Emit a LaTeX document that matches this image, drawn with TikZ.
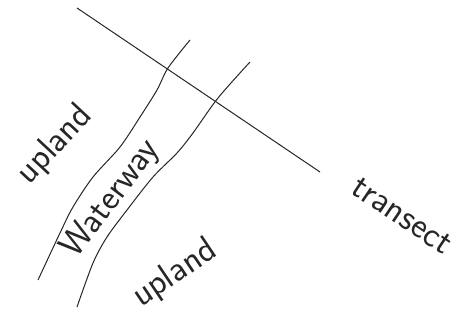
\documentclass[tikz,border=0pt]{standalone}
\usepackage{tikz}
\usetikzlibrary{positioning}

\begin{document}
\begin{tikzpicture}[
    x=1pt, y=-1pt,
    every node/.style={font=\sffamily\fontsize{36}{36}\selectfont, inner sep=0pt},
    bank/.style={line width=1pt, black!85},
    trans/.style={line width=1pt, black!85},
    lbl/.style={text=black!85}
]
\useasboundingbox (0,0) rectangle (466,320);

% --- transect line ---
\coordinate (t_start) at (77,8);
\coordinate (t_end)   at (320,172);
\draw[trans] (t_start) -- (t_end);

% --- waterway banks ---
\draw[bank] plot[smooth, tension=0.5] coordinates {(190,40) (168,68) (157,90) (140,117) (120,147) (93,177) (73,207) (60,233) (38,280)};
\draw[bank] plot[smooth, tension=0.5] coordinates {(250,62) (218,98) (193,133) (177,153) (153,177) (127,210) (107,237) (93,263) (77,307)};

% --- labels ---
\node[lbl, rotate=47] (up_left)  at (55,145)  {upland};
\node[lbl, rotate=53] (water)    at (111,199) {Waterway};
\node[lbl, rotate=34] (up_right) at (175,274) {upland};
\node[lbl, rotate=-34] (tr)      at (402,216) {transect};
\end{tikzpicture}
\end{document}
